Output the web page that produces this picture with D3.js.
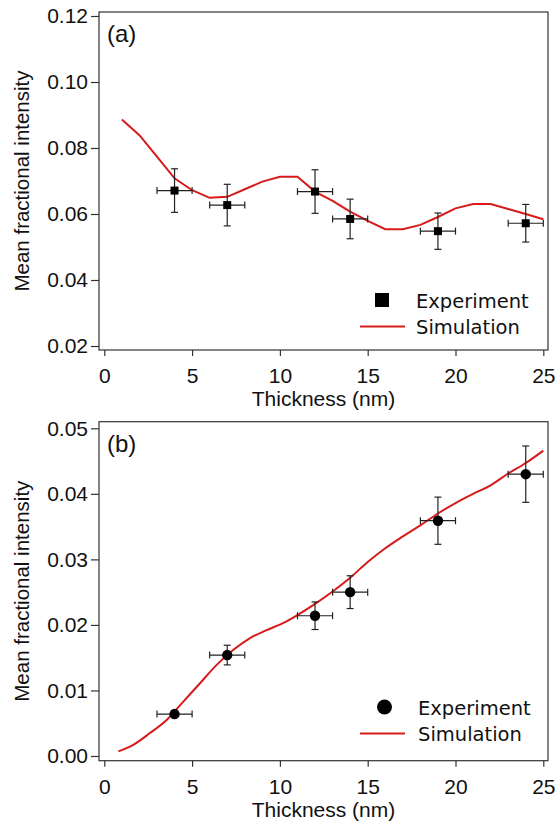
<!DOCTYPE html>
<html lang="en">
	<head>
		<meta charset="utf-8">
		<title>D3: Mean fractional intensity vs thickness</title>
		<script type="text/javascript" src="https://cdn.jsdelivr.net/npm/d3@7"></script>
		<style type="text/css">
			body { margin: 0; background: #fff; }
			.axis text { font-family: "Liberation Sans", Arial, sans-serif; font-size: 21px; fill: #111; }
			.axis path, .axis line { stroke: #333; stroke-width: 1.2; }
		</style>
	</head>
	<body>
		<script type="text/javascript">

			//Width and height
			var w = 557;
			var h = 822;

			//Experimental thicknesses (nm), same for both panels
			var thickness = [4, 7, 12, 14, 19, 24];
			var thicknessErr = 1;

			//Panel (a)
			var expA = [0.0671, 0.0627, 0.0668, 0.0585, 0.0548, 0.0572];
			var errA = [0.0066, 0.0063, 0.0066, 0.0060, 0.0055, 0.0057];
			var simAx = [1, 2, 3, 4, 5, 6, 7, 8, 9, 10, 11, 12, 13, 14, 15, 16, 17, 18, 19, 20, 21, 22, 23, 24, 25];
			var simAy = [0.0886, 0.0839, 0.0774, 0.0708, 0.0672, 0.0649, 0.0652, 0.0675, 0.0698, 0.0713, 0.0713, 0.0668,
			             0.0640, 0.0607, 0.0579, 0.0554, 0.0554, 0.0567, 0.0591, 0.0617, 0.0630, 0.0630, 0.0615, 0.0600, 0.0584];
			var ticksA = [0.02, 0.04, 0.06, 0.08, 0.10, 0.12];

			//Panel (b)
			var expB = [0.0064, 0.0154, 0.0214, 0.0250, 0.0359, 0.0430];
			var errB = [0.0005, 0.0015, 0.0021, 0.0025, 0.0036, 0.0043];
			var simBx = [0.8, 1.65, 2.6, 3.55, 4.5, 5.45, 6.4, 7.35, 8.3, 9.25, 10.2, 11, 12, 13, 14, 15, 16, 17, 18, 19, 20, 21, 22, 23, 24, 25];
			var simBy = [0.0007, 0.0017, 0.0035, 0.0055, 0.0083, 0.0111, 0.0139, 0.0162, 0.0180, 0.0192, 0.0203, 0.0215, 0.0232,
			             0.0251, 0.0272, 0.0296, 0.0317, 0.0335, 0.0352, 0.0370, 0.0386, 0.0400, 0.0413, 0.0431, 0.0447, 0.0466];
			var ticksB = [0.00, 0.01, 0.02, 0.03, 0.04, 0.05];

			var xTicks = [0, 5, 10, 15, 20, 25];

			var red = "#d71a1a";
			var ink = "#111";

			var svg = d3.select("body")
						.append("svg")
						.attr("width", w)
						.attr("height", h);

			//One panel: frame, axes, curve, points, legend
			var drawPanel = function(p) {
				var xScale = d3.scaleLinear().domain([0, 25]).range([104.3, 543.3]);
				var yScale = d3.scaleLinear().domain(p.yDomain).range(p.yRange);

				var g = svg.append("g");

				//frame
				g.append("rect")
				 .attr("x", p.left)
				 .attr("y", p.top)
				 .attr("width", p.right - p.left)
				 .attr("height", p.bottom - p.top)
				 .attr("fill", "none")
				 .attr("stroke", "#333")
				 .attr("stroke-width", 1.2);

				//axes
				g.append("g")
				 .attr("class", "axis")
				 .attr("transform", "translate(" + p.left + ",0)")
				 .call(d3.axisLeft(yScale).tickValues(p.yTicks).tickFormat(d3.format(".2f")).tickSize(8).tickPadding(3))
				 .select(".domain").remove();

				g.append("g")
				 .attr("class", "axis")
				 .attr("transform", "translate(0," + p.bottom + ")")
				 .call(d3.axisBottom(xScale).tickValues(xTicks).tickFormat(d3.format("d")).tickSize(6).tickPadding(12))
				 .select(".domain").remove();

				//axis titles
				g.append("text")
				 .text("Thickness (nm)")
				 .attr("x", (p.left + p.right) / 2)
				 .attr("y", p.bottom + 56)
				 .attr("text-anchor", "middle")
				 .attr("font-family", "Liberation Sans, Arial, sans-serif")
				 .attr("font-size", "21px")
				 .attr("fill", ink);

				g.append("text")
				 .text("Mean fractional intensity")
				 .attr("transform", "translate(29," + ((p.top + p.bottom) / 2) + ") rotate(-90)")
				 .attr("text-anchor", "middle")
				 .attr("font-family", "Liberation Sans, Arial, sans-serif")
				 .attr("font-size", "20.5px")
				 .attr("fill", ink);

				//panel label
				g.append("text")
				 .text(p.label)
				 .attr("x", p.left + 8)
				 .attr("y", p.top + 30)
				 .attr("font-family", "Liberation Sans, Arial, sans-serif")
				 .attr("font-size", "24px")
				 .attr("fill", ink);

				//simulation curve
				var line = d3.line()
							 .x(function(d) { return xScale(d[0]); })
							 .y(function(d) { return yScale(d[1]); })
							 .curve(p.curve);

				g.append("path")
				 .datum(d3.zip(p.simX, p.simY))
				 .attr("d", line)
				 .attr("fill", "none")
				 .attr("stroke", red)
				 .attr("stroke-width", 2);

				//experiment points with error bars
				var dataset = thickness.map(function(t, i) {
					return { x: t, y: p.exp[i], e: p.err[i] };
				});

				var pts = g.selectAll("g.pt")
						   .data(dataset)
						   .enter()
						   .append("g")
						   .attr("class", "pt")
						   .attr("stroke", "#222")
						   .attr("stroke-width", 1.2);

				pts.append("line")
				   .attr("x1", function(d) { return xScale(d.x - thicknessErr); })
				   .attr("x2", function(d) { return xScale(d.x + thicknessErr); })
				   .attr("y1", function(d) { return yScale(d.y); })
				   .attr("y2", function(d) { return yScale(d.y); });
				pts.append("line")
				   .attr("x1", function(d) { return xScale(d.x); })
				   .attr("x2", function(d) { return xScale(d.x); })
				   .attr("y1", function(d) { return yScale(d.y - d.e); })
				   .attr("y2", function(d) { return yScale(d.y + d.e); });
				//caps
				[-1, 1].forEach(function(s) {
					pts.append("line")
					   .attr("x1", function(d) { return xScale(d.x) - 3.5; })
					   .attr("x2", function(d) { return xScale(d.x) + 3.5; })
					   .attr("y1", function(d) { return yScale(d.y + s * d.e); })
					   .attr("y2", function(d) { return yScale(d.y + s * d.e); });
					pts.append("line")
					   .attr("x1", function(d) { return xScale(d.x + s * thicknessErr); })
					   .attr("x2", function(d) { return xScale(d.x + s * thicknessErr); })
					   .attr("y1", function(d) { return yScale(d.y) - 3.5; })
					   .attr("y2", function(d) { return yScale(d.y) + 3.5; });
				});

				if (p.marker == "square") {
					pts.append("rect")
					   .attr("x", function(d) { return xScale(d.x) - 4; })
					   .attr("y", function(d) { return yScale(d.y) - 4; })
					   .attr("width", 8)
					   .attr("height", 8)
					   .attr("fill", "#000")
					   .attr("stroke", "none");
				} else {
					pts.append("circle")
					   .attr("cx", function(d) { return xScale(d.x); })
					   .attr("cy", function(d) { return yScale(d.y); })
					   .attr("r", 5.2)
					   .attr("fill", "#000")
					   .attr("stroke", "none");
				}

				//legend
				var lg = g.append("g").attr("transform", "translate(0," + p.legendY + ")");
				if (p.marker == "square") {
					lg.append("rect").attr("x", 375).attr("y", -7).attr("width", 14).attr("height", 14).attr("fill", "#000");
				} else {
					lg.append("circle").attr("cx", 384.5).attr("cy", 0).attr("r", 7.5).attr("fill", "#000");
				}
				lg.append("line")
				  .attr("x1", 360).attr("x2", 405)
				  .attr("y1", 26.5).attr("y2", 26.5)
				  .attr("stroke", red).attr("stroke-width", 2);
				lg.selectAll("text")
				  .data(["Experiment", "Simulation"])
				  .enter()
				  .append("text")
				  .text(function(d) { return d; })
				  .attr("x", p.legendTextX)
				  .attr("y", function(d, i) { return 7.5 + i * 26.5; })
				  .attr("font-family", "DejaVu Sans, Verdana, sans-serif")
				  .attr("font-size", "19.5px")
				  .attr("fill", ink);
			};

			drawPanel({
				label: "(a)",
				left: 99, right: 548, top: 12, bottom: 350,
				yDomain: [0.02, 0.12], yRange: [346, 16], yTicks: ticksA,
				simX: simAx, simY: simAy, curve: d3.curveLinear,
				exp: expA, err: errA, marker: "square",
				legendY: 300, legendTextX: 416
			});

			drawPanel({
				label: "(b)",
				left: 99, right: 548, top: 421.7, bottom: 760.7,
				yDomain: [0, 0.05], yRange: [756, 428.3], yTicks: ticksB,
				simX: simBx, simY: simBy, curve: d3.curveMonotoneX,
				exp: expB, err: errB, marker: "circle",
				legendY: 707, legendTextX: 418
			});

		</script>
	</body>
</html>
